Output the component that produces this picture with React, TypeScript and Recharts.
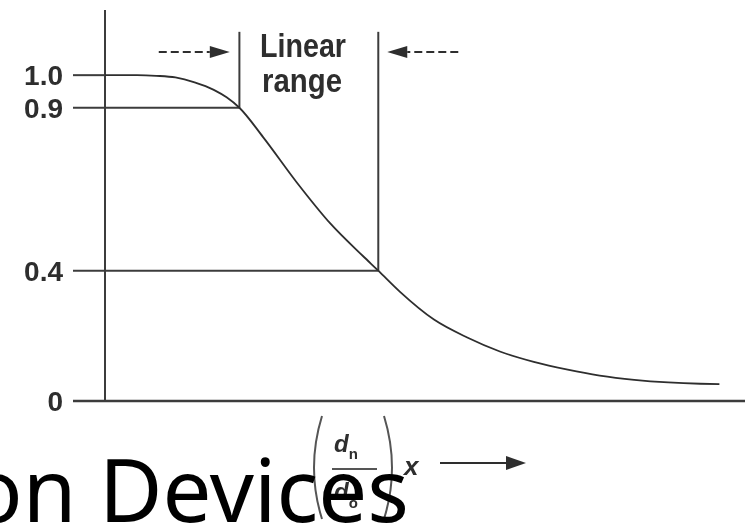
import React from 'react'
import { LineChart, Line, XAxis, YAxis, ReferenceLine } from 'recharts'

// normalised position along the fibre axis and the matching response
const positions = [0, 5, 8, 11, 14, 17, 19, 21, 24.7, 30, 35.2, 40.3, 42.7, 46.1, 51.4, 56.6, 61.7, 67, 72.3, 77.3, 82.7, 88, 93, 96]
const response = [1.0, 1.0, 0.998, 0.993, 0.978, 0.955, 0.932, 0.9, 0.81, 0.67, 0.545, 0.445, 0.4, 0.335, 0.25, 0.195, 0.152, 0.12, 0.096, 0.078, 0.065, 0.057, 0.053, 0.052]

const yTicks = [0, 0.4, 0.9, 1.0]
const yTickLabels = ['0', '0.4', '0.9', '1.0']

// edges of the linear range and the levels they sit on
const rangeStart = 21
const rangeEnd = 42.7
const upperLevel = 0.9
const lowerLevel = 0.4
const fullLevel = 1.0

const INK = '#2e2e2e'
const LINE = '#3c3c3c'

const data = positions.map((x, i) => ({ x, y: response[i] }))

const YTick = (props: any) => {
  const { x, y, payload } = props
  const idx = yTicks.indexOf(payload.value)
  return (
    <text
      x={x - 2}
      y={y}
      dy="0.36em"
      textAnchor="end"
      fill={INK}
      fontFamily="'Liberation Sans', Arial, sans-serif"
      fontWeight={700}
      fontSize={28}
    >
      {yTickLabels[idx]}
    </text>
  )
}

// dashed pointer with a filled head at the second end
const DashArrow = (props: any) => {
  const { x1, y1, x2, y2 } = props
  const dir = Math.sign(x2 - x1)
  const head = 20
  return (
    <g>
      <line x1={x1} y1={y1} x2={x2 - dir * head} y2={y2} stroke={INK} strokeWidth={2} strokeDasharray="8 4" />
      <polygon
        points={`${x2},${y2} ${x2 - dir * head},${y2 - 6} ${x2 - dir * head},${y2 + 6}`}
        fill={INK}
      />
    </g>
  )
}

export default function App() {
  return (
    <div style={{ position: 'absolute', left: 0, top: 0, width: 748, height: 528, background: '#fff' }}>
      <div style={{ position: 'absolute', left: 0, top: 0, filter: 'blur(0.5px)' }}>
        <LineChart width={748} height={528} data={data} margin={{ top: 10, right: 3, bottom: 126, left: 8 }}>
          <XAxis
            type="number"
            dataKey="x"
            domain={[-5, 100]}
            tick={false}
            tickLine={false}
            axisLine={{ stroke: LINE, strokeWidth: 2.5 }}
            height={1}
          />
          <YAxis
            type="number"
            domain={[0, 1.2]}
            ticks={yTicks}
            interval={0}
            tick={<YTick />}
            axisLine={false}
            tickLine={false}
            width={65}
          />
          <ReferenceLine segment={[{ x: 0, y: 0 }, { x: 0, y: 1.2 }]} stroke={LINE} strokeWidth={2} />
          <ReferenceLine segment={[{ x: -5, y: fullLevel }, { x: 0, y: fullLevel }]} stroke={LINE} strokeWidth={2} />
          <ReferenceLine segment={[{ x: -5, y: upperLevel }, { x: rangeStart, y: upperLevel }]} stroke={LINE} strokeWidth={2} />
          <ReferenceLine segment={[{ x: -5, y: lowerLevel }, { x: rangeEnd, y: lowerLevel }]} stroke={LINE} strokeWidth={2} />
          <ReferenceLine segment={[{ x: rangeStart, y: upperLevel }, { x: rangeStart, y: 1.133 }]} stroke={LINE} strokeWidth={2} />
          <ReferenceLine segment={[{ x: rangeEnd, y: lowerLevel }, { x: rangeEnd, y: 1.133 }]} stroke={LINE} strokeWidth={2} />
          <ReferenceLine segment={[{ x: 8.4, y: 1.071 }, { x: 19.5, y: 1.071 }]} shape={<DashArrow />} />
          <ReferenceLine segment={[{ x: 55.2, y: 1.071 }, { x: 44.1, y: 1.071 }]} shape={<DashArrow />} />
          <Line
            type="monotone"
            dataKey="y"
            stroke={INK}
            strokeWidth={1.8}
            dot={false}
            activeDot={false}
            isAnimationActive={false}
          />
        </LineChart>
        <svg width={748} height={528} style={{ position: 'absolute', left: 0, top: 0 }}>
          <g fill={INK} fontFamily="'Liberation Sans', Arial, sans-serif" fontWeight={700} textAnchor="middle">
            <text x={303} y={57} fontSize={33} textLength={86} lengthAdjust="spacingAndGlyphs">Linear</text>
            <text x={302} y={92} fontSize={33} textLength={80} lengthAdjust="spacingAndGlyphs">range</text>
          </g>
          {/* axis quantity: (d_n / d_0) x with a pointer */}
          <g stroke="#555" strokeWidth={2} fill="none">
            <path d="M 322 416 Q 306 468 322 519" />
            <path d="M 384 416 Q 400 468 384 519" />
            <line x1={332} y1={469} x2={377} y2={469} />
          </g>
          <g fill={INK} fontFamily="'Liberation Sans', Arial, sans-serif" fontWeight={700}>
            <text x={334} y={452} fontSize={24}>
              <tspan fontStyle="italic">d</tspan>
              <tspan fontSize={15} dy={7}>n</tspan>
            </text>
            <text x={334} y={500} fontSize={24}>
              <tspan fontStyle="italic">d</tspan>
              <tspan fontSize={15} dy={8}>o</tspan>
            </text>
            <text x={404} y={475} fontSize={26} fontStyle="italic">x</text>
          </g>
          <line x1={440} y1={463} x2={507} y2={463} stroke={INK} strokeWidth={2} />
          <polygon points="526,463 506,456 506,470" fill={INK} />
        </svg>
      </div>
      <svg width={748} height={528} style={{ position: 'absolute', left: 0, top: 0 }}>
        <text x={-30} y={522} fontFamily="'Noto Sans', sans-serif" fontSize={87} fill="#000">
          on Devices
        </text>
      </svg>
    </div>
  )
}
